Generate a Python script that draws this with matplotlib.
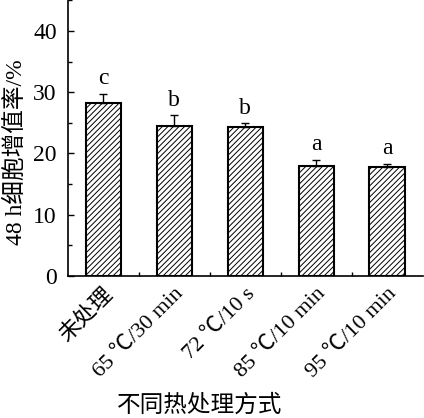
import matplotlib.pyplot as plt
from matplotlib.ticker import MultipleLocator

categories = ["未处理", "65 ℃/30 min", "72 ℃/10 s", "85 ℃/10 min", "95 ℃/10 min"]
values = [28.2, 24.5, 24.3, 18.0, 17.8]
errors = [1.5, 1.7, 0.6, 0.9, 0.5]
letters = ["c", "b", "b", "a", "a"]

plt.rcParams['font.family'] = ['Liberation Serif', 'Noto Sans CJK SC']
plt.rcParams['hatch.linewidth'] = 0.7

fig = plt.figure(figsize=(4.24, 4.18), dpi=100)
ax = fig.add_axes([0.160, 0.340, 0.837, 0.659])

x = list(range(len(categories)))
ax.bar(x, values, width=0.5, color='white', edgecolor='black', linewidth=1.5,
       hatch='//////', zorder=2)
ax.errorbar(x, values, yerr=[[0] * len(errors), errors], fmt='none',
            ecolor='black', elinewidth=1, capsize=3, capthick=1, zorder=3)
for xi, v, e, t in zip(x, values, errors, letters):
    ax.text(xi, v + e + 0.8, t, ha='center', va='bottom', fontsize=17)

ax.set_xlim(-0.5, 4.5)
ax.set_ylim(0, 45)
ax.yaxis.set_major_locator(MultipleLocator(10))
ax.yaxis.set_minor_locator(MultipleLocator(5))
ax.set_xticks(x)
ax.xaxis.set_minor_locator(plt.FixedLocator([0.5, 1.5, 2.5, 3.5]))
ax.set_xticklabels(categories, rotation=45, ha='right', rotation_mode='anchor',
                   fontsize=16, family=['Liberation Serif', 'Noto Sans CJK SC'])
ax.tick_params(axis='y', labelsize=17, pad=8)
ax.tick_params(axis='both', which='both', direction='in')
ax.tick_params(axis='both', which='major', length=4, width=1)
ax.tick_params(axis='both', which='minor', length=3, width=1)
ax.tick_params(axis='x', pad=6)
ax.spines['top'].set_visible(False)
ax.spines['right'].set_visible(False)
ax.spines['left'].set_linewidth(1.2)
ax.spines['bottom'].set_linewidth(1.2)

ax.set_ylabel("48 h细胞增值率/%", fontsize=17)
ax.yaxis.set_label_coords(-0.115, 0.45)
fig.text(0.47, 0.03, "不同热处理方式", ha='center', va='center', fontsize=17)

fig.savefig("out.png", dpi=100)
